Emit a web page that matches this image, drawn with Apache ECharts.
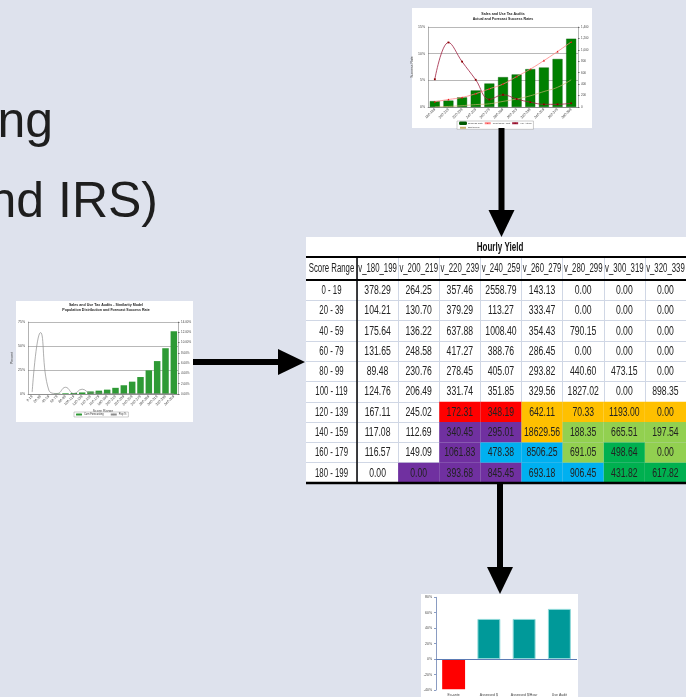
<!DOCTYPE html>
<html>
<head>
<meta charset="utf-8">
<script src="https://cdn.jsdelivr.net/npm/echarts@6/dist/echarts.min.js"></script>
<style>
  html, body { margin: 0; padding: 0; background: #dee2ed; }
  #main { width: 686px; height: 697px; }
</style>
</head>
<body>
<div id="main"></div>
<script>
// --- top thumbnail: actual and forecast success rates ---
const topCats = ['180-199', '200-219', '220-239', '240-259', '260-279', '280-299',
  '300-319', '320-339', '340-359', '360-379', '380-399'];
const topSuccess = [1.1, 1.2, 1.8, 3.1, 4.4, 5.6, 6.1, 7.1, 7.4, 9.0, 12.8];
const topActual = [5.2, 12.1, 8.5, 5.1, 1.4, 2.3, 1.5, 0.9, 0.5, 0.5, 0.7];
const topForecast = [1.0, 1.4, 1.8, 2.5, 3.4, 4.3, 5.7, 7.1, 8.7, 10.4, 12.2];
const topTrend = [0, 0.1, 0.25, 0.45, 0.6, 1.05, 1.5, 2.1, 2.9, 3.7, 5.1];

// --- left thumbnail: population distribution and forecast success rate ---
const leftCats = ['0-19', '20-39', '40-59', '60-79', '80-99', '100-119', '120-139', '140-159',
  '160-179', '180-199', '200-219', '220-239', '240-259', '260-279', '280-299', '300-319',
  '320-339', '340-359'];
const leftPop = [2, 64, 4, 0.5, 7, 0.5, 5, 1, 1, 0.5, 0.5, 0.5, 0.5, 0.5, 0.5, 0.5, 0.5, 0.5];
const leftRate = [0, 0, 0, 0.07, 0.13, 0.2, 0.3, 0.5, 0.65, 0.85, 1.2, 1.7, 2.4, 3.3, 4.6, 6.4, 8.9, 12.2];

// --- Hourly Yield table ---
const scoreRanges = ['0 - 19', '20 - 39', '40 - 59', '60 - 79', '80 - 99',
  '100 - 119', '120 - 139', '140 - 159', '160 - 179', '180 - 199'];
const yieldCols = ['v_180_199', 'v_200_219', 'v_220_239', 'v_240_259',
  'v_260_279', 'v_280_299', 'v_300_319', 'v_320_339'];
const hourlyYield = [
  [378.29, 264.25, 357.46, 2558.79, 143.13, 0.00, 0.00, 0.00],
  [104.21, 130.70, 379.29, 113.27, 333.47, 0.00, 0.00, 0.00],
  [175.64, 136.22, 637.88, 1008.40, 354.43, 790.15, 0.00, 0.00],
  [131.65, 248.58, 417.27, 388.76, 286.45, 0.00, 0.00, 0.00],
  [89.48, 230.76, 278.45, 405.07, 293.82, 440.60, 473.15, 0.00],
  [124.76, 206.49, 331.74, 351.85, 329.56, 1827.02, 0.00, 898.35],
  [167.11, 245.02, 172.31, 348.19, 642.11, 70.33, 1193.00, 0.00],
  [117.08, 112.69, 340.45, 295.01, 18629.56, 188.35, 665.51, 197.54],
  [116.57, 149.09, 1061.83, 478.38, 8506.25, 691.05, 498.64, 0.00],
  [0.00, 0.00, 393.68, 845.45, 693.18, 906.45, 431.82, 617.82]
];
// highlight group of each cell (w = none)
const cellGroup = [
  'wwwwwwww', 'wwwwwwww', 'wwwwwwww', 'wwwwwwww', 'wwwwwwww',
  'wwwwwwww', 'wwrroooo', 'wwppolll', 'wwpbblgl', 'wpppbbgg'
];
const groupColor = { w: 'rgba(0,0,0,0)', r: '#ff0000', o: '#ffc000', p: '#7030a0',
  b: '#00b0f0', l: '#92d050', g: '#00b050' };

// --- bottom thumbnail: results ---
const resultCats = ['Ex-ante', 'Assessed $', 'Assessed $/Hour', 'Use Audit'];
const resultVals = [-39, 52, 52, 65];

const chart = echarts.init(document.getElementById('main'));

const tiny = { fontSize: 3.5, color: '#444', fontFamily: 'Liberation Sans, Arial' };
const cellFont = 'Liberation Sans, Arial, sans-serif';
const HEADER_H = 23;   // header row height above the value grid
const RANGE_W = 51;    // width of the "Score Range" column

const cellData = [];
hourlyYield.forEach((row, r) => row.forEach((v, c) => cellData.push([c, r, v])));

// one table cell: coloured fill + narrow text
function renderCell(params, api) {
  const c = api.value(0), r = api.value(1), v = api.value(2);
  const p = api.coord([c, r]);
  const s = api.size([1, 1]);
  return {
    type: 'group',
    children: [
      { type: 'rect', shape: { x: p[0] - s[0] / 2, y: p[1] - s[1] / 2, width: s[0], height: s[1] },
        style: { fill: groupColor[cellGroup[r][c]] } },
      { type: 'text', x: p[0], y: p[1] + 0.5, scaleX: 0.72,
        style: { text: v.toFixed(2), fill: '#222', fontSize: 12, fontFamily: cellFont,
          textAlign: 'center', textVerticalAlign: 'middle' } }
    ]
  };
}

function renderHeader(params, api) {
  const c = api.value(0);
  const p = api.coord([c, 0]);
  const s = api.size([1, 1]);
  return { type: 'text', x: p[0], y: p[1] - s[1] / 2 - HEADER_H / 2, scaleX: 0.65,
    style: { text: yieldCols[c], fill: '#222', fontSize: 12, fontFamily: cellFont,
      textAlign: 'center', textVerticalAlign: 'middle' } };
}

function renderRange(params, api) {
  const r = api.value(1);
  const p = api.coord([0, r]);
  const s = api.size([1, 1]);
  return { type: 'text', x: p[0] - s[0] / 2 - RANGE_W / 2, y: p[1] + 0.5, scaleX: 0.65,
    style: { text: scoreRanges[r], fill: '#222', fontSize: 12, fontFamily: cellFont,
      textAlign: 'center', textVerticalAlign: 'middle' } };
}

// arrow helper (decoration only)
function arrowDown(x, y0, y1) {
  return [
    { type: 'rect', shape: { x: x - 3, y: y0, width: 6, height: y1 - y0 - 26 }, style: { fill: '#000' }, z: 50 },
    { type: 'polygon', shape: { points: [[x - 13, y1 - 27], [x + 13, y1 - 27], [x, y1]] }, style: { fill: '#000' }, z: 50 }
  ];
}

const option = {
  backgroundColor: '#dee2ed',
  animation: false,
  graphic: [
    { type: 'text', x: 53, y: 148, style: { text: 'ng', fontSize: 50, fill: '#1e1e1e', fontFamily: 'Liberation Sans, Arial', textAlign: 'right', textVerticalAlign: 'bottom' } },
    { type: 'text', x: 158, y: 228, style: { text: 'nd IRS)', fontSize: 50, fill: '#1e1e1e', fontFamily: 'Liberation Sans, Arial', textAlign: 'right', textVerticalAlign: 'bottom' } },
    // thumbnail cards and table background
    { type: 'rect', shape: { x: 412, y: 8, width: 180, height: 120 }, style: { fill: '#fff' }, z: -10 },
    { type: 'rect', shape: { x: 16, y: 301, width: 177, height: 121 }, style: { fill: '#fff' }, z: -10 },
    { type: 'rect', shape: { x: 421, y: 594, width: 157, height: 110 }, style: { fill: '#fff' }, z: -10 },
    { type: 'rect', shape: { x: 306, y: 237, width: 400, height: 246 }, style: { fill: '#fff' }, z: -10 },
    // thumbnail titles
    { type: 'text', x: 503, y: 12, style: { text: 'Sales and Use Tax Audits\nActual and Forecast Success Rates', fontSize: 3.6, fontWeight: 'bold', fill: '#222', textAlign: 'center', lineHeight: 4.5 }, z: 20 },
    { type: 'text', x: 106, y: 303, style: { text: 'Sales and Use Tax Audits - Similarity Model\nPopulation Distribution and Forecast Success Rate', fontSize: 3.6, fontWeight: 'bold', fill: '#222', textAlign: 'center', lineHeight: 4.5 }, z: 20 },
    // table title, header cell and heavy rules
    { type: 'text', x: 500, y: 247.5, scaleX: 0.67, style: { text: 'Hourly Yield', fontSize: 12, fontWeight: 'bold', fill: '#111', textAlign: 'center', textVerticalAlign: 'middle', fontFamily: cellFont }, z: 20 },
    { type: 'text', x: 331.5, y: 268.5, scaleX: 0.65, style: { text: 'Score Range', fontSize: 12, fill: '#222', textAlign: 'center', textVerticalAlign: 'middle', fontFamily: cellFont }, z: 20 },
    { type: 'line', shape: { x1: 306, y1: 257, x2: 686, y2: 257 }, style: { stroke: '#000', lineWidth: 2 }, z: 30 },
    { type: 'line', shape: { x1: 306, y1: 280, x2: 686, y2: 280 }, style: { stroke: '#000', lineWidth: 2 }, z: 30 },
    { type: 'line', shape: { x1: 306, y1: 483, x2: 686, y2: 483 }, style: { stroke: '#000', lineWidth: 2.5 }, z: 30 },
    { type: 'line', shape: { x1: 357, y1: 258, x2: 357, y2: 483 }, style: { stroke: '#000', lineWidth: 1.5 }, z: 30 },
    // arrows
    ...arrowDown(501.5, 128, 237),
    ...arrowDown(500, 483, 594),
    { type: 'rect', shape: { x: 193, y: 359, width: 86, height: 6 }, style: { fill: '#000' }, z: 50 },
    { type: 'polygon', shape: { points: [[278, 349], [278, 375], [305, 362]] }, style: { fill: '#000' }, z: 50 }
  ],
  legend: [
    {
      data: ['Success Rate', 'Profit Succ. Fcst', 'R-Sqr', 'HS_Actual', 'Sqrt Trend'],
      left: 457, top: 121, width: 76, itemWidth: 6, itemHeight: 1.5, itemGap: 1,
      padding: [0.5, 2], borderColor: '#999', borderWidth: 0.5, backgroundColor: '#fff',
      textStyle: { fontSize: 2.4, color: '#333', padding: [0, 4, 0, -3] }
    },
    {
      data: ['Cum Forecasting', 'Pop %'],
      left: 74, top: 412, itemWidth: 6, itemHeight: 2, itemGap: 6,
      padding: [1, 2], borderColor: '#999', borderWidth: 0.5, backgroundColor: '#fff',
      textStyle: { fontSize: 2.6, color: '#333', padding: [0, 0, 0, -3] }
    }
  ],
  grid: [
    { left: 428, top: 27, width: 150, height: 80 },
    { left: 28, top: 322, width: 150, height: 72 },
    { left: 357, top: 280, width: 338.6, height: 203 },
    { left: 436, top: 597.3, width: 141, height: 93.4 }
  ],
  xAxis: [
    {
      gridIndex: 0, type: 'category', data: topCats,
      name: 'Score Range', nameLocation: 'middle', nameGap: 10, nameTextStyle: tiny,
      axisLine: { lineStyle: { color: '#666', width: 0.5 } }, axisTick: { show: false },
      axisLabel: { ...tiny, rotate: 45, margin: 2, interval: 0 }
    },
    {
      gridIndex: 1, type: 'category', data: leftCats,
      name: 'Score Range', nameLocation: 'middle', nameGap: 12, nameTextStyle: tiny,
      axisLine: { lineStyle: { color: '#666', width: 0.5 } }, axisTick: { show: false },
      axisLabel: { ...tiny, rotate: 45, margin: 2, interval: 0 }
    },
    {
      gridIndex: 2, type: 'category', data: yieldCols, position: 'top',
      axisLine: { show: false },
      axisTick: { show: true, length: HEADER_H, interval: 0, lineStyle: { color: '#d0d7e5' } },
      axisLabel: { show: false },
      splitLine: { show: true, interval: 0, lineStyle: { color: '#d0d7e5' } }
    },
    {
      gridIndex: 3, type: 'category', data: resultCats,
      axisLine: { show: false, onZero: false }, axisTick: { show: false },
      axisLabel: { ...tiny, margin: 3, interval: 0 }
    }
  ],
  yAxis: [
    {
      gridIndex: 0, type: 'value', min: 0, max: 15, interval: 5,
      name: 'Success Rate', nameLocation: 'middle', nameGap: 9, nameTextStyle: tiny,
      axisLine: { show: true, lineStyle: { color: '#666', width: 0.5 } },
      axisLabel: { ...tiny, margin: 3, formatter: '{value}%' },
      splitLine: { lineStyle: { color: '#888', width: 0.6 } }
    },
    {
      gridIndex: 0, type: 'value', min: 0, max: 1400, interval: 200, position: 'right',
      axisLine: { show: true, lineStyle: { color: '#666', width: 0.5 } },
      axisTick: { show: true, length: 1.5 },
      axisLabel: { ...tiny, fontSize: 3, margin: 3 }, splitLine: { show: false }
    },
    {
      gridIndex: 1, type: 'value', min: 0, max: 75, interval: 25,
      name: 'Percent', nameLocation: 'middle', nameGap: 9, nameTextStyle: tiny,
      axisLine: { show: true, lineStyle: { color: '#666', width: 0.5 } },
      axisLabel: { ...tiny, margin: 3, formatter: '{value}%' },
      splitLine: { lineStyle: { color: '#888', width: 0.6 } }
    },
    {
      gridIndex: 1, type: 'value', min: 0, max: 14, interval: 2, position: 'right',
      axisLine: { show: true, lineStyle: { color: '#666', width: 0.5 } },
      axisTick: { show: true, length: 1.5 },
      axisLabel: { ...tiny, fontSize: 3, margin: 3, formatter: v => v.toFixed(2) + '%' },
      splitLine: { show: false }
    },
    {
      gridIndex: 2, type: 'category', data: scoreRanges, inverse: true,
      axisLine: { show: false },
      axisTick: { show: true, length: RANGE_W, interval: 0, lineStyle: { color: '#d0d7e5' } },
      axisLabel: { show: false },
      splitLine: { show: true, interval: 0, lineStyle: { color: '#d0d7e5' } }
    },
    {
      gridIndex: 3, type: 'value', min: -40, max: 80, interval: 20,
      axisLine: { show: true, lineStyle: { color: '#8a9cc2', width: 1 } },
      axisTick: { show: true, length: 2, lineStyle: { color: '#8a9cc2' } },
      axisLabel: { ...tiny, margin: 4, formatter: '{value}%' },
      splitLine: { show: false }
    }
  ],
  series: [
    {
      name: 'Success Rate', type: 'bar', xAxisIndex: 0, yAxisIndex: 0, data: topSuccess,
      barCategoryGap: '27%', itemStyle: { color: '#008000', borderColor: '#005a00', borderWidth: 0.4 }
    },
    {
      name: 'HS_Actual', type: 'line', xAxisIndex: 0, yAxisIndex: 0, data: topActual, smooth: 0.4,
      symbol: 'rect', symbolSize: 1.8, lineStyle: { color: '#a02040', width: 0.8 }, itemStyle: { color: '#8b0000' }
    },
    {
      name: 'Profit Succ. Fcst', type: 'line', xAxisIndex: 0, yAxisIndex: 0, data: topForecast, smooth: true,
      symbol: 'triangle', symbolSize: 2, lineStyle: { color: '#ff7f7f', width: 0.8 }, itemStyle: { color: '#e01010' }
    },
    {
      name: 'Sqrt Trend', type: 'line', xAxisIndex: 0, yAxisIndex: 0, data: topTrend, smooth: true,
      symbol: 'none', lineStyle: { color: '#c8b070', width: 0.7 }, itemStyle: { color: '#c8b070' }
    },
    {
      name: 'Cum Forecasting', type: 'bar', xAxisIndex: 1, yAxisIndex: 3, data: leftRate,
      barCategoryGap: '22%', itemStyle: { color: '#2e9a35' }
    },
    {
      name: 'Pop %', type: 'line', xAxisIndex: 1, yAxisIndex: 2, data: leftPop, smooth: true,
      symbol: 'none', lineStyle: { color: '#8c8c8c', width: 0.7 }, itemStyle: { color: '#8c8c8c' }
    },
    {
      name: 'Hourly Yield', type: 'custom', xAxisIndex: 2, yAxisIndex: 4,
      data: cellData, renderItem: renderCell, silent: true
    },
    {
      name: 'Header', type: 'custom', xAxisIndex: 2, yAxisIndex: 4,
      data: yieldCols.map((n, c) => [c, 0]), renderItem: renderHeader, silent: true
    },
    {
      name: 'Ranges', type: 'custom', xAxisIndex: 2, yAxisIndex: 4,
      data: scoreRanges.map((n, r) => [0, r]), renderItem: renderRange, silent: true
    },
    {
      name: 'Result', type: 'bar', xAxisIndex: 3, yAxisIndex: 5, barWidth: '65%',
      data: resultVals.map(v => ({
        value: v,
        itemStyle: v < 0 ? { color: '#ff0000' } : { color: '#009999', borderColor: '#8fd9d9', borderWidth: 1 }
      })),
      markLine: {
        silent: true, symbol: 'none', label: { show: false },
        lineStyle: { color: '#5b7bb4', width: 1, type: 'solid' },
        data: [{ yAxis: 0 }]
      }
    }
  ]
};

chart.setOption(option);
</script>
</body>
</html>
